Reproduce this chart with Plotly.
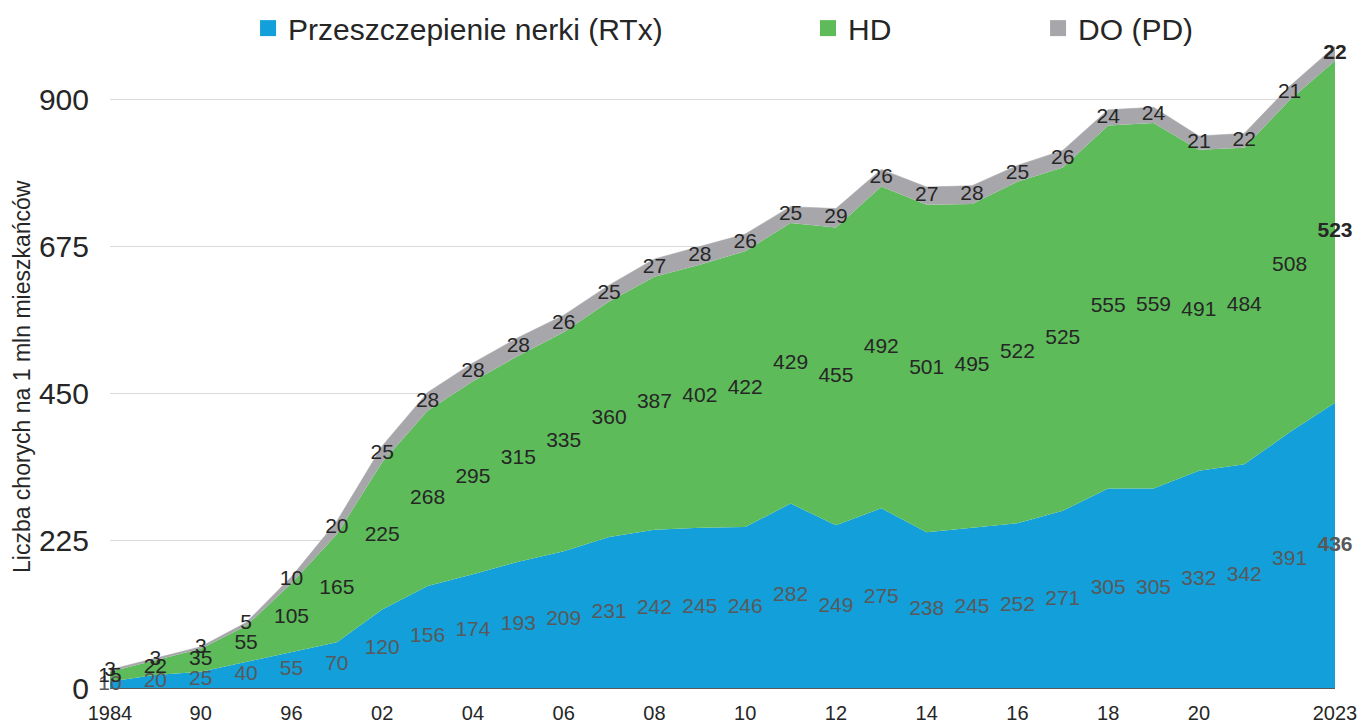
import numpy as np
import plotly.graph_objects as go

# lata (co 3 lata do 1999, potem co rok)
years = ["1984", "1987", "1990", "1993", "1996", "1999"] + [str(y) for y in range(2002, 2024)]

# liczba chorych na 1 mln mieszkańców
rtx = [10, 20, 25, 40, 55, 70, 120, 156, 174, 193, 209, 231, 242, 245, 246, 282,
       249, 275, 238, 245, 252, 271, 305, 305, 332, 342, 391, 436]
hd = [15, 22, 35, 55, 105, 165, 225, 268, 295, 315, 335, 360, 387, 402, 422, 429,
      455, 492, 501, 495, 522, 525, 555, 559, 491, 484, 508, 523]
do_pd = [3, 3, 3, 5, 10, 20, 25, 28, 28, 28, 26, 25, 27, 28, 26, 25,
         29, 26, 27, 28, 25, 26, 24, 24, 21, 22, 21, 22]

series_names = ["Przeszczepienie nerki (RTx)", "HD", "DO (PD)"]

x_tickvals = ["1984", "1990", "1996", "2002", "2004", "2006", "2008", "2010",
              "2012", "2014", "2016", "2018", "2020", "2023"]
x_ticktext = ["1984", "90", "96", "02", "04", "06", "08", "10",
              "12", "14", "16", "18", "20", "2023"]
y_tickvals = [0, 225, 450, 675, 900]

FONT = "Liberation Sans, Arial, sans-serif"
C_RTX, C_HD, C_DO = "#129fda", "#5dbb59", "#a7a7ab"

fig = go.Figure()

# pola skumulowane
for vals, name, col in ((rtx, series_names[0], C_RTX),
                        (hd, series_names[1], C_HD),
                        (do_pd, series_names[2], C_DO)):
    fig.add_trace(go.Scatter(
        x=years, y=vals, stackgroup="one", mode="lines",
        line=dict(width=0.6 if col == C_DO else 0, color=col),
        fillcolor=col, showlegend=False, hoverinfo="skip",
    ))

# etykiety danych w środku każdego pasma
r = np.array(rtx, float)
h = np.array(hd, float)
d = np.array(do_pd, float)
mids = (r / 2, r + h / 2, r + h + d / 2)
colors = ("#595959", "#262626", "#262626")


def _txt(vals):
    out = [str(v) for v in vals]
    out[-1] = f"<b>{out[-1]}</b>"   # ostatni rok pogrubiony
    return out


for vals, ys, col in zip((rtx, hd, do_pd), mids, colors):
    fig.add_trace(go.Scatter(
        x=years, y=ys, mode="text", text=_txt(vals),
        textfont=dict(family=FONT, size=21, color=col),
        textposition="middle center", cliponaxis=False,
        showlegend=False, hoverinfo="skip",
    ))

# legenda: osobne legendy, żeby ustawić pozycje jak w oryginale
legend_x = [0.1127, 0.5698, 0.7576]
for i, (name, col) in enumerate(zip(series_names, (C_RTX, C_HD, C_DO))):
    key = "legend" if i == 0 else f"legend{i+1}"
    fig.add_trace(go.Scatter(
        x=[None], y=[None], mode="markers", name=name,
        marker=dict(symbol="square", size=16, color=col),
        legend=key, showlegend=True,
    ))
    fig.update_layout({key: dict(
        x=legend_x[i], y=1.009, xanchor="left", yanchor="middle",
        orientation="h", bgcolor="rgba(0,0,0,0)",
        font=dict(family=FONT, size=30, color="#262626"),
    )})

fig.add_annotation(
    text="Liczba chorych na 1 mln mieszkańców", textangle=-90,
    xref="paper", yref="paper", x=(22 - 110) / 1225, y=(688 - 377) / 654,
    xanchor="center", yanchor="middle",
    showarrow=False, font=dict(family=FONT, size=23, color="#262626"),
)

fig.update_layout(
    width=1363, height=724,
    margin=dict(l=110, r=28, t=34, b=36, autoexpand=False),
    paper_bgcolor="white", plot_bgcolor="white",
    font=dict(family=FONT, color="#262626"),
    xaxis=dict(
        type="category", categoryorder="array", categoryarray=years,
        range=[0, len(years) - 1], tickvals=x_tickvals, ticktext=x_ticktext,
        tickfont=dict(size=20, color="#262626"), ticks="outside", ticklen=7,
        tickcolor="rgba(0,0,0,0)", showgrid=False, showline=True,
        linecolor="#595959", linewidth=1, zeroline=False, automargin=False,
    ),
    yaxis=dict(
        range=[0, 1000], tickvals=y_tickvals,
        tickfont=dict(size=30, color="#262626"), ticklabelstandoff=20,
        showgrid=True, gridcolor="#d9d9d9", gridwidth=1,
        zeroline=False, showline=False, automargin=False,
    ),
)

fig.write_html("out.html", config={"displayModeBar": False},
               post_script="document.body.style.margin='0';")
